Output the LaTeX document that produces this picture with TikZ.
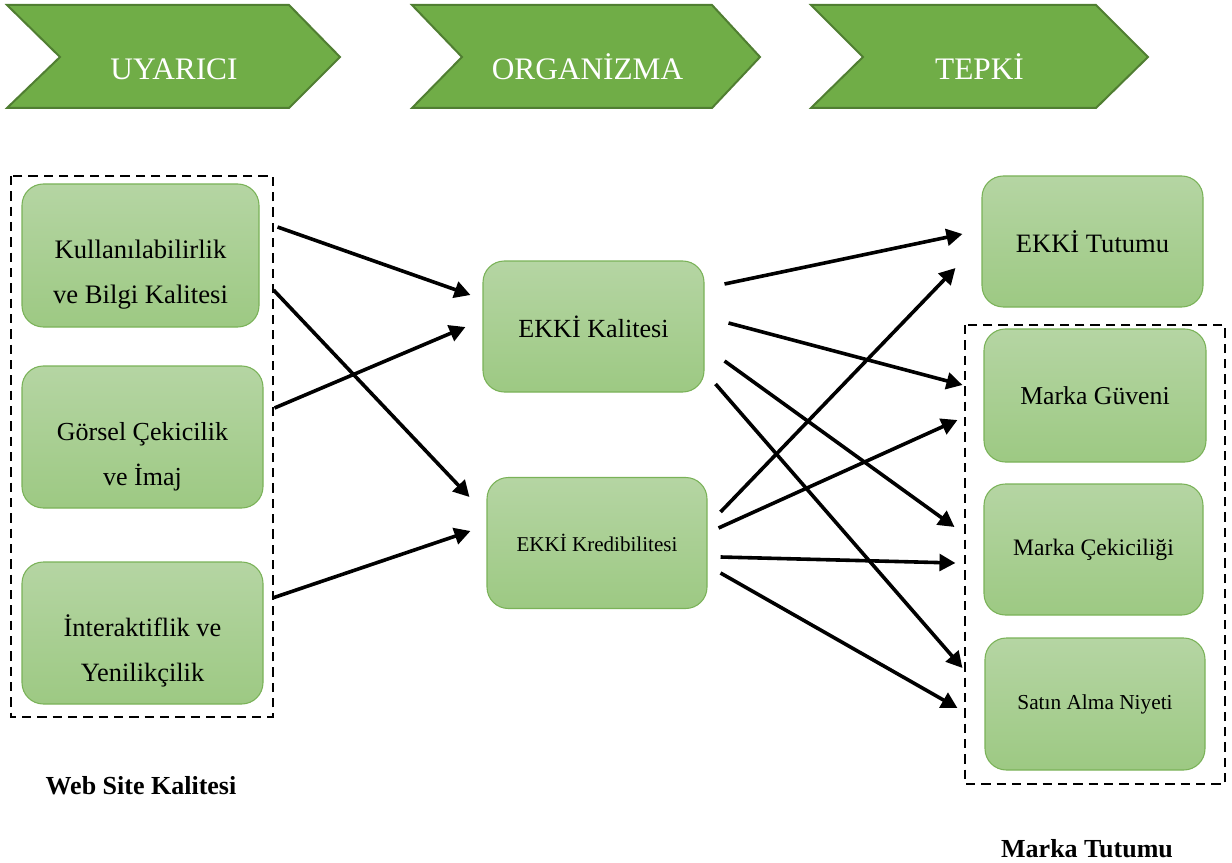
\documentclass[tikz,border=0pt]{standalone}
\usepackage{fontspec}
\setmainfont{Liberation Serif}[Ligatures=NoCommon]
\usetikzlibrary{arrows.meta}
\definecolor{chevfill}{HTML}{70AD47}
\definecolor{chevline}{HTML}{507E32}
\definecolor{boxtop}{HTML}{B5D5A3}
\definecolor{boxbot}{HTML}{9DC983}
\definecolor{boxline}{HTML}{7AB258}
\newcommand{\twoline}[2]{\raisebox{-2.25pt}[0pt][0pt]{\begin{tabular}[t]{@{}c@{}}#1\\#2\end{tabular}}}
\tikzset{
  chev/.style={fill=chevfill, draw=chevline, line width=1.5pt, line join=miter},
  chevtext/.style={text=white, font=\fontsize{23.5}{28}\selectfont, anchor=base, inner sep=0pt},
  box/.style={rectangle, rounded corners=16pt, top color=boxtop, bottom color=boxbot,
    draw=boxline, line width=0.8pt, inner sep=0pt, text=black},
  sz/.style 2 args={minimum width=#1*0.75pt, minimum height=#2*0.75pt},
  grp/.style={draw=black, dash pattern=on 7pt off 4.5pt, line width=2.2pt},
  arr/.style={draw=black, line width=2.7pt, -{Triangle[length=12pt,width=12.5pt]}},
  caption/.style={font=\bfseries\fontsize{19.5}{24}\selectfont, anchor=base, inner sep=0pt}
}
\begin{document}
\begin{tikzpicture}[x=0.75pt, y=-0.75pt]
\useasboundingbox (0,0) rectangle (1232,863);

% chevrons
\path[chev] (7,5) -- (289,5) -- (340,57) -- (289,108) -- (7,108) -- (60,57) -- cycle;
\path[chev] (412,5) -- (712,5) -- (760,57) -- (712,108) -- (412,108) -- (462,57) -- cycle;
\path[chev] (811,5) -- (1096,5) -- (1148,57) -- (1096,108) -- (811,108) -- (863,57) -- cycle;
\node[chevtext] (c1) at (174,80) {UYARICI};
\node[chevtext] (c2) at (587.5,80) {ORGANİZMA};
\node[chevtext] (c3) at (979.5,80) {TEPKİ};

% dashed groups
\draw[grp] (11,176) rectangle (273,717);
\draw[grp] (965,325) rectangle (1225,784);

% left boxes
\node[box, sz={237}{143}, font=\fontsize{20}{33.75}\selectfont] (kul) at (140.5,255.5)
  {\twoline{Kullanılabilirlik}{ve Bilgi Kalitesi}};
\node[box, sz={241}{142}, font=\fontsize{19.5}{33.75}\selectfont] (gor) at (142.5,437)
  {\twoline{Görsel Çekicilik}{ve İmaj}};
\node[box, sz={241}{142}, font=\fontsize{19.8}{33.75}\selectfont] (int) at (142.5,633)
  {\twoline{İnteraktiflik ve}{Yenilikçilik}};

% middle boxes
\node[box, sz={221}{131}, font=\fontsize{19.6}{24}\selectfont] (kal) at (593.5,326.5) {EKKİ Kalitesi};
\node[box, sz={220}{131}, font=\fontsize{15.8}{19}\selectfont] (kre) at (597,543) {EKKİ Kredibilitesi};

% right boxes
\node[box, sz={221}{131}, font=\fontsize{19.9}{24}\selectfont] (tut) at (1092.5,241.5) {EKKİ Tutumu};
\node[box, sz={222}{133}, font=\fontsize{19.3}{24}\selectfont] (guv) at (1095,395.5) {Marka Güveni};
\node[box, sz={219}{131}, font=\fontsize{17.7}{22}\selectfont] (cek) at (1093.5,549.5) {Marka Çekiciliği};
\node[box, sz={220}{132}, font=\fontsize{16}{20}\selectfont] (sat) at (1095,704) {Satın Alma Niyeti};

% captions
\node[caption] (wsk) at (141,794) {Web Site Kalitesi};
\node[caption] (mtu) at (1087,857) {Marka Tutumu};

% arrows left -> middle
\draw[arr] ([shift={(18,-28.5)}]kul.east) -- ([shift={(-12,-31.5)}]kal.west);
\draw[arr] ([shift={(14,34.5)}]kul.east) -- ([shift={(-17,-46)}]kre.west);
\draw[arr] ([shift={(11,-29)}]gor.east) -- ([shift={(-17,0.5)}]kal.west);
\draw[arr] ([shift={(9,-35)}]int.east) -- ([shift={(-16,-12)}]kre.west);

% arrows middle -> right
\draw[arr] ([shift={(20,-42.5)}]kal.east) -- ([shift={(-19,-7.5)}]tut.west);
\draw[arr] ([shift={(24,-3.5)}]kal.east) -- ([shift={(-21,-10.5)}]guv.west);
\draw[arr] ([shift={(20,34.5)}]kal.east) -- ([shift={(-29,-22.5)}]cek.west);
\draw[arr] ([shift={(11,57.5)}]kal.east) -- ([shift={(-22,-36)}]sat.west);
\draw[arr] ([shift={(13,-31)}]kre.east) -- ([shift={(-26,26.5)}]tut.west);
\draw[arr] ([shift={(11,-15)}]kre.east) -- ([shift={(-26,24.5)}]guv.west);
\draw[arr] ([shift={(13,14)}]kre.east) -- ([shift={(-28,13.5)}]cek.west);
\draw[arr] ([shift={(13,30)}]kre.east) -- ([shift={(-27,4)}]sat.west);
\end{tikzpicture}
\end{document}
